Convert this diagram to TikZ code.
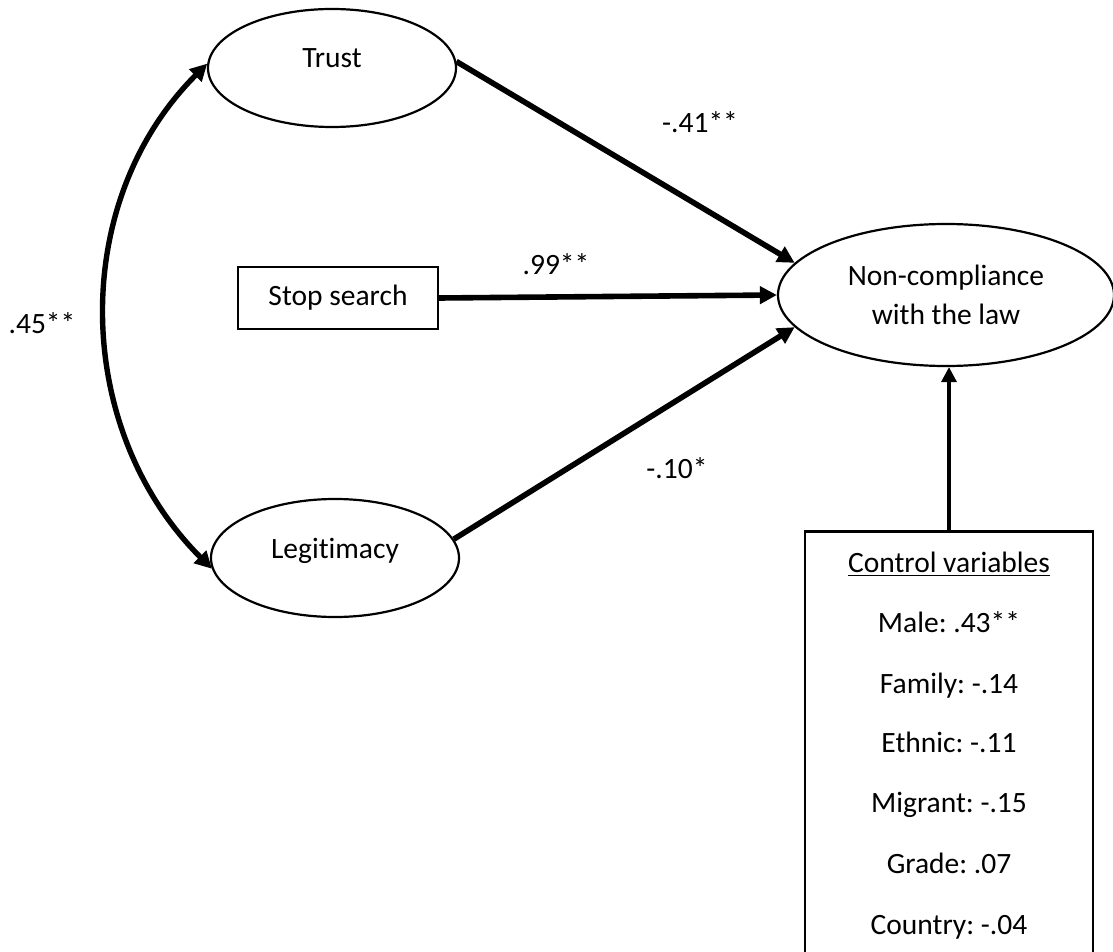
\documentclass[tikz,border=0pt]{standalone}
\usepackage{fontspec}
\setmainfont[Ligatures=CommonOff]{Carlito}
\usetikzlibrary{arrows.meta,shapes.geometric}
\begin{document}
\frenchspacing
\begin{tikzpicture}[x=0.5pt,y=-0.5pt,
  every node/.style={font=\fontsize{14.75}{19.5}\selectfont},
  latent/.style={draw, ellipse, line width=1.1pt, inner sep=0pt},
  obsbox/.style={draw, rectangle, line width=1.1pt, inner sep=0pt},
  pathline/.style={line width=2.8pt, -{Triangle[length=8.5pt,width=8.5pt]}},
  coef/.style={inner sep=0pt},
  ctrlline/.style={anchor=base, inner sep=0pt}]
\useasboundingbox (0,0) rectangle (1113,952);
\clip (0,0) rectangle (1113,952);
% nodes
\node[latent, minimum width=124pt, minimum height=59pt, text height=10pt, text depth=10pt] (trust) at (332,68) {Trust};
\node[latent, minimum width=124pt, minimum height=59pt, text height=10pt, text depth=10pt] (legit) at (335,558) {Legitimacy};
\node[obsbox, minimum width=100pt, minimum height=31pt] (stop) at (338,298) {Stop search};
\node[latent, minimum width=168pt, minimum height=71pt, align=center] (nc) at (946,295) {Non-compliance\\with the law};
\node[draw, line width=1.4pt, minimum width=144pt, minimum height=240pt, anchor=north] (ctrl) at (949,530) {};
% control variables text
\node[ctrlline] (cv) at (949,572) {\underline{Control variables}};
\node[ctrlline] (cmale) at (949,632) {Male: .43**};
\node[ctrlline] (cfam) at (949,693) {Family: -.14};
\node[ctrlline] (ceth) at (949,752) {Ethnic: -.11};
\node[ctrlline] (cmig) at (949,812) {Migrant: -.15};
\node[ctrlline] (cgrade) at (949,873) {Grade: .07};
\node[ctrlline] (ccountry) at (949,934) {Country: -.04};
% paths
\draw[pathline] (trust.3) -- (nc.168);
\draw[pathline] (stop.east) -- (nc.180);
\draw[pathline] (legit.9) -- (nc.192);
\draw[line width=1.7pt, -{Triangle[length=7.5pt,width=7.5pt]}] (ctrl.north) -- (ctrl.north |- nc.south);
\draw[line width=2.7pt, {Triangle[length=8.5pt,width=8.5pt]}-{Triangle[length=8.5pt,width=8.5pt]}]
  (trust.178) .. controls +(-139,139) and +(-139,-139) .. (legit.185);
% coefficients
\node[coef] (l41) at (700,122) {-.41**};
\node[coef] (l99) at (556,264) {.99**};
\node[coef] (l10) at (677,468) {-.10*};
\node[coef] (l45) at (42,323) {.45**};
\end{tikzpicture}
\end{document}
